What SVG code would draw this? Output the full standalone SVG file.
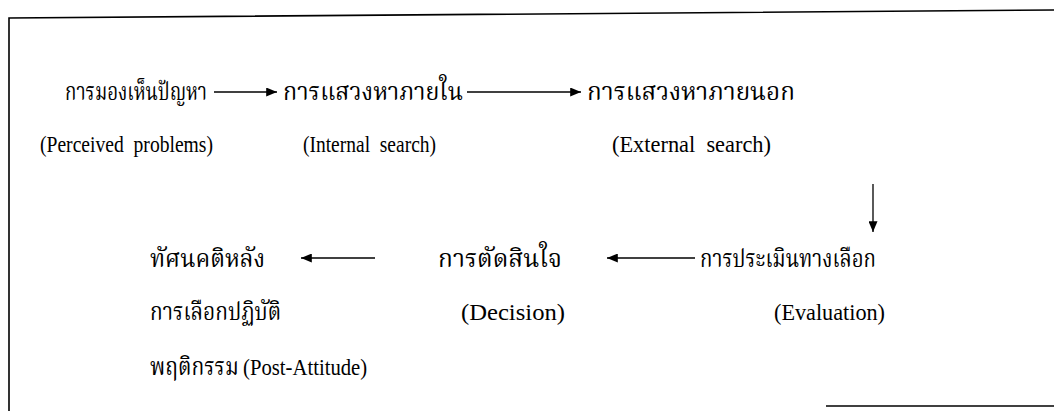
<svg xmlns="http://www.w3.org/2000/svg" width="1054" height="411" viewBox="0 0 1054 411">
<style>
.th{font-family:"Liberation Serif","Norasi","Kinnari","Noto Serif Thai",serif;font-size:25px;fill:#000}
.en{font-family:"Liberation Serif",serif;font-size:23px;fill:#000;white-space:pre}
.ln{stroke:#000;stroke-width:1.6;fill:none}
.cn{stroke:#000;stroke-width:1.3;fill:none}
</style>
<defs>
<marker id="ah" viewBox="0 0 12 10" refX="12" refY="5" markerWidth="12" markerHeight="9" markerUnits="userSpaceOnUse" orient="auto">
<path d="M0,0L12,5L0,10z" fill="#000"/>
</marker>
</defs>
<rect width="1054" height="411" fill="#fff"/>
<g id="frame">
<path class="ln" d="M9,411V18L1054,10"/>
<path class="ln" d="M826,406H1054"/>
</g>
<g id="connectors">
<line class="cn" x1="214" y1="92" x2="277" y2="92" marker-end="url(#ah)"/>
<line class="cn" x1="467" y1="92" x2="581" y2="92" marker-end="url(#ah)"/>
<line class="cn" x1="873" y1="184" x2="873" y2="232" marker-end="url(#ah)"/>
<line class="cn" x1="695" y1="258" x2="607" y2="258" marker-end="url(#ah)"/>
<line class="cn" x1="375" y1="258" x2="301" y2="258" marker-end="url(#ah)"/>
</g>
<g id="n1"><text class="th" x="65" y="100" textLength="142" lengthAdjust="spacingAndGlyphs">การมองเห็นปัญหา</text><text class="en" x="40" y="152" textLength="173" lengthAdjust="spacingAndGlyphs">(Perceived  problems)</text></g>
<g id="n2"><text class="th" x="283" y="100" textLength="180" lengthAdjust="spacingAndGlyphs">การแสวงหาภายใน</text><text class="en" x="303" y="152" textLength="133" lengthAdjust="spacingAndGlyphs">(Internal  search)</text></g>
<g id="n3"><text class="th" x="587" y="100" textLength="208" lengthAdjust="spacingAndGlyphs">การแสวงหาภายนอก</text><text class="en" x="612" y="152" textLength="159" lengthAdjust="spacingAndGlyphs">(External  search)</text></g>
<g id="n4"><text class="th" x="700" y="267" textLength="176" lengthAdjust="spacingAndGlyphs">การประเมินทางเลือก</text><text class="en" x="774" y="320" textLength="111" lengthAdjust="spacingAndGlyphs">(Evaluation)</text></g>
<g id="n5"><text class="th" x="438" y="267" textLength="124" lengthAdjust="spacingAndGlyphs">การตัดสินใจ</text><text class="en" x="461" y="320" textLength="104" lengthAdjust="spacingAndGlyphs">(Decision)</text></g>
<g id="n6"><text class="th" x="150" y="267" textLength="115" lengthAdjust="spacingAndGlyphs">ทัศนคติหลัง</text><text class="th" x="150" y="320" textLength="131" lengthAdjust="spacingAndGlyphs">การเลือกปฏิบัติ</text><text class="th" transform="translate(150,375) scale(0.84,1)">พฤติกรรม</text><text class="en" transform="translate(243,375) scale(0.9,1)">(Post-Attitude)</text></g>
</svg>
